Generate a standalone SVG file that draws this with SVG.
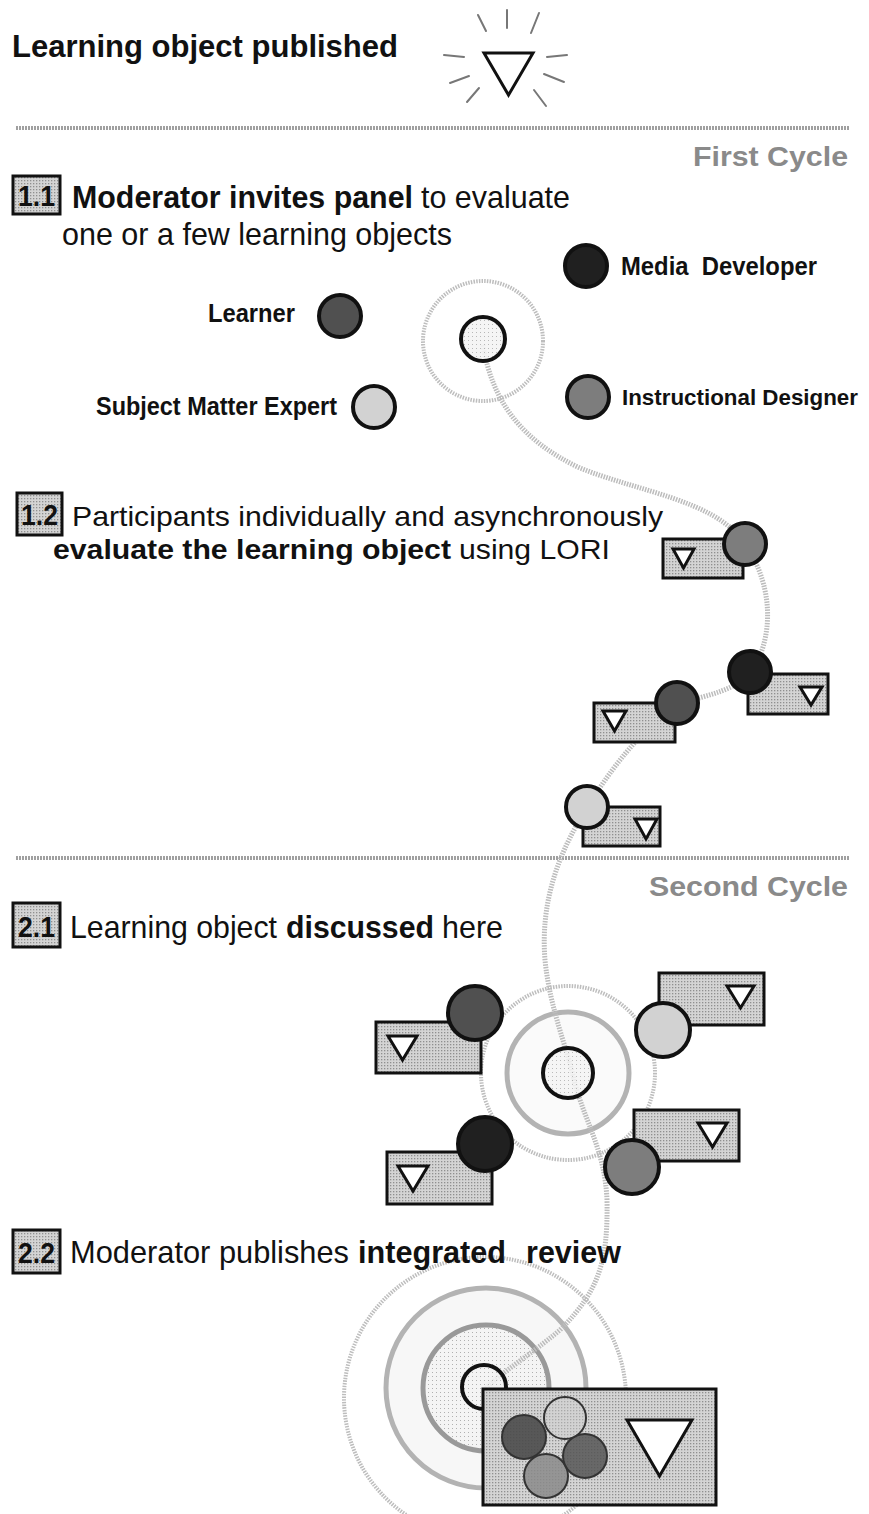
<svg xmlns="http://www.w3.org/2000/svg" width="869" height="1514" viewBox="0 0 869 1514">
  <defs>
    <pattern id="stipple" width="3" height="3" patternUnits="userSpaceOnUse">
      <rect width="3" height="3" fill="#d4d4d4"/>
      <rect width="1.3" height="1.3" fill="#8f8f8f"/>
    </pattern>
    <pattern id="lightdots" width="4" height="4" patternUnits="userSpaceOnUse">
      <rect width="4" height="4" fill="#f4f4f4"/>
      <rect width="1" height="1" fill="#b0b0b0"/>
    </pattern>
    <style>
      .t { font-family: "Liberation Sans", Arial, sans-serif; fill: #111; }
      .b { font-weight: bold; }
      .body { font-size: 32px; }
      .tight { font-size: 28px; }
      .lbl { font-size: 25px; font-weight: bold; }
      .lbl-sm { font-size: 22px; font-weight: bold; }
      .cyc { font-size: 28px; font-weight: bold; fill: #8a8a8a; }
      .num { font-size: 29px; font-weight: bold; }
      .numbox { fill: url(#stipple); stroke: #111; stroke-width: 3; }
      .sep { stroke: #a0a0a0; stroke-width: 4; stroke-dasharray: 2 1; }
      .card { fill: url(#stipple); stroke: #111; stroke-width: 3; }
      .tri { fill: #fff; stroke: #111; stroke-width: 3; stroke-linejoin: miter; }
      .who { stroke: #111; stroke-width: 4; }
      .ray { stroke: #777; stroke-width: 2; stroke-linecap: round; }
      .dotring { fill: none; stroke: #bdbdbd; stroke-width: 4; stroke-dasharray: 1.5 1.2; }
      .flow { fill: none; stroke: #bcbcbc; stroke-width: 5; stroke-dasharray: 1.5 1.2; }
    </style>
  </defs>
  <rect width="869" height="1514" fill="#fff"/>

  <!-- header -->
  <g id="published">
    <text class="t b" x="12" y="57" font-size="32" textLength="386" lengthAdjust="spacingAndGlyphs">Learning object published</text>
    <polygon class="tri" points="484,53 533,53 508.5,95" stroke-width="5"/>
    <line class="ray" x1="478" y1="15" x2="486" y2="31"/>
    <line class="ray" x1="507" y1="10" x2="507" y2="28"/>
    <line class="ray" x1="539" y1="13" x2="531" y2="33"/>
    <line class="ray" x1="444" y1="55" x2="464" y2="57"/>
    <line class="ray" x1="547" y1="57" x2="567" y2="55"/>
    <line class="ray" x1="450" y1="83" x2="469" y2="76"/>
    <line class="ray" x1="467" y1="102" x2="479" y2="88"/>
    <line class="ray" x1="544" y1="74" x2="564" y2="82"/>
    <line class="ray" x1="534" y1="90" x2="546" y2="106"/>
  </g>

  <!-- cycle separators -->
  <g id="separators">
    <line class="sep" x1="16" y1="128" x2="850" y2="128"/>
    <text class="t cyc" x="848" y="166" text-anchor="end" textLength="155" lengthAdjust="spacingAndGlyphs">First Cycle</text>
    <line class="sep" x1="16" y1="858" x2="850" y2="858"/>
    <text class="t cyc" x="848" y="896" text-anchor="end" textLength="199" lengthAdjust="spacingAndGlyphs">Second Cycle</text>
  </g>

  <!-- rings behind the flow -->
  <g id="ring-discussion">
    <circle class="dotring" cx="568" cy="1073" r="87"/>
    <circle cx="568" cy="1073" r="61" fill="#fafafa" stroke="#b3b3b3" stroke-width="5"/>
  </g>
  <g id="ring-review">
    <circle class="dotring" cx="485" cy="1398" r="141"/>
    <circle cx="486" cy="1388" r="100" fill="#f7f7f7" stroke="#b3b3b3" stroke-width="5"/>
    <circle cx="486" cy="1388" r="63" fill="url(#lightdots)" stroke="#999" stroke-width="5"/>
  </g>
  <g id="ring-invite">
    <circle class="dotring" cx="483" cy="341" r="60" stroke-width="7"/>
  </g>

  <!-- connector: path of the review process -->
  <g id="connectors">
    <path class="flow" d="M483,345 C492,400 520,440 580,468 C640,492 712,500 742,540 C772,580 776,632 752,672 C735,690 710,695 680,703 C640,730 610,770 587,808 C560,850 540,900 545,960 C550,1010 568,1050 574,1080 C584,1120 605,1150 607,1200 C608,1260 600,1290 560,1330 C530,1355 505,1370 486,1388"/>
  </g>

  <!-- step 1.1 -->
  <g id="step-1-1">
    <rect class="numbox" x="13" y="176" width="47" height="38"/>
    <text class="t num" x="36.5" y="206" text-anchor="middle" textLength="37" lengthAdjust="spacingAndGlyphs">1.1</text>
    <text class="t body b" x="72" y="208" textLength="341" lengthAdjust="spacingAndGlyphs">Moderator invites panel</text>
    <text class="t body" x="421" y="208" textLength="149" lengthAdjust="spacingAndGlyphs">to evaluate</text>
    <text class="t body" x="62" y="245" textLength="390" lengthAdjust="spacingAndGlyphs">one or a few learning objects</text>
  </g>

  <g id="moderator">
    <circle cx="483" cy="339" r="22" fill="url(#lightdots)" fill-opacity="0.9" stroke="#111" stroke-width="4"/>
  </g>
  <g id="media-developer">
    <circle class="who" cx="586" cy="266" r="21" fill="#202020"/>
    <text class="t lbl" x="621" y="275" textLength="196" lengthAdjust="spacingAndGlyphs" xml:space="preserve">Media  Developer</text>
  </g>
  <g id="learner">
    <circle class="who" cx="340" cy="316" r="21" fill="#505050"/>
    <text class="t lbl" x="208" y="322" textLength="87" lengthAdjust="spacingAndGlyphs">Learner</text>
  </g>
  <g id="instructional-designer">
    <circle class="who" cx="588" cy="397" r="21" fill="#7d7d7d"/>
    <text class="t lbl-sm" x="622" y="405" textLength="236" lengthAdjust="spacingAndGlyphs">Instructional Designer</text>
  </g>
  <g id="subject-matter-expert">
    <circle class="who" cx="374" cy="407" r="21" fill="#d2d2d2"/>
    <text class="t lbl" x="96" y="415" textLength="241" lengthAdjust="spacingAndGlyphs">Subject Matter Expert</text>
  </g>

  <!-- step 1.2 -->
  <g id="step-1-2">
    <rect class="numbox" x="17" y="493" width="45" height="42"/>
    <text class="t num" x="39.5" y="525" text-anchor="middle" textLength="37" lengthAdjust="spacingAndGlyphs">1.2</text>
    <text class="t tight" x="72" y="526" textLength="591" lengthAdjust="spacingAndGlyphs">Participants individually and asynchronously</text>
    <text class="t tight b" x="53" y="559" textLength="398" lengthAdjust="spacingAndGlyphs">evaluate the learning object</text>
    <text class="t tight" x="459" y="559" textLength="151" lengthAdjust="spacingAndGlyphs">using LORI</text>
  </g>

  <g id="review-designer">
    <rect class="card" x="663" y="539" width="80" height="39"/>
    <polygon class="tri" points="673,549 694,549 683.5,568"/>
    <circle class="who" cx="745" cy="544" r="21" fill="#7d7d7d"/>
  </g>
  <g id="review-developer">
    <rect class="card" x="748" y="674" width="80" height="40"/>
    <polygon class="tri" points="800,687 822,687 811,705"/>
    <circle class="who" cx="750" cy="672" r="21" fill="#202020"/>
  </g>
  <g id="review-learner">
    <rect class="card" x="594" y="703" width="81" height="39"/>
    <polygon class="tri" points="603,711 626,711 614.5,731"/>
    <circle class="who" cx="677" cy="703" r="21" fill="#505050"/>
  </g>
  <g id="review-expert">
    <rect class="card" x="583" y="807" width="77" height="39"/>
    <polygon class="tri" points="635,819 657,819 646,839"/>
    <circle class="who" cx="587" cy="807" r="21" fill="#d2d2d2"/>
  </g>

  <!-- step 2.1 -->
  <g id="step-2-1">
    <rect class="numbox" x="13" y="903" width="47" height="44"/>
    <text class="t num" x="36.5" y="937" text-anchor="middle" textLength="37" lengthAdjust="spacingAndGlyphs">2.1</text>
    <text class="t body" x="70" y="938" textLength="207" lengthAdjust="spacingAndGlyphs">Learning object</text>
    <text class="t body b" x="286" y="938" textLength="148" lengthAdjust="spacingAndGlyphs">discussed</text>
    <text class="t body" x="442" y="938" textLength="61" lengthAdjust="spacingAndGlyphs">here</text>
  </g>

  <g id="discussion-moderator">
    <circle cx="568" cy="1073" r="25" fill="url(#lightdots)" fill-opacity="0.85" stroke="#111" stroke-width="4"/>
  </g>
  <g id="discuss-learner">
    <rect class="card" x="376" y="1022" width="105" height="51"/>
    <polygon class="tri" points="388,1036 417,1036 402.5,1060"/>
    <circle class="who" cx="475" cy="1013" r="27" fill="#505050"/>
  </g>
  <g id="discuss-expert">
    <rect class="card" x="659" y="973" width="105" height="52"/>
    <polygon class="tri" points="727,986 754,986 740.5,1008"/>
    <circle class="who" cx="663" cy="1030" r="27" fill="#d2d2d2"/>
  </g>
  <g id="discuss-developer">
    <rect class="card" x="387" y="1152" width="105" height="52"/>
    <polygon class="tri" points="398,1166 428,1166 413,1191"/>
    <circle class="who" cx="485" cy="1144" r="27" fill="#202020"/>
  </g>
  <g id="discuss-designer">
    <rect class="card" x="634" y="1110" width="105" height="51"/>
    <polygon class="tri" points="698,1123 727,1123 712.5,1147"/>
    <circle class="who" cx="632" cy="1167" r="27" fill="#7d7d7d"/>
  </g>

  <!-- step 2.2 -->
  <g id="step-2-2">
    <rect class="numbox" x="13" y="1230" width="47" height="43"/>
    <text class="t num" x="36.5" y="1263" text-anchor="middle" textLength="37" lengthAdjust="spacingAndGlyphs">2.2</text>
    <text class="t body" x="70" y="1263" textLength="279" lengthAdjust="spacingAndGlyphs">Moderator publishes</text>
    <text class="t body b" x="358" y="1263" textLength="148" lengthAdjust="spacingAndGlyphs">integrated</text>
    <text class="t body b" x="526" y="1263" textLength="95" lengthAdjust="spacingAndGlyphs">review</text>
  </g>

  <g id="integrated-review">
    <circle cx="484" cy="1387" r="22" fill="url(#lightdots)" fill-opacity="0.85" stroke="#111" stroke-width="4"/>
    <rect class="card" x="483" y="1389" width="233" height="116"/>
    <circle cx="524" cy="1437" r="22" fill="#4a4a4a" fill-opacity="0.9" stroke="#333" stroke-width="2"/>
    <circle cx="546" cy="1476" r="22" fill="#8a8a8a" fill-opacity="0.85" stroke="#333" stroke-width="2"/>
    <circle cx="585" cy="1456" r="22" fill="#555" fill-opacity="0.85" stroke="#333" stroke-width="2"/>
    <circle cx="565" cy="1418" r="21" fill="#cfcfcf" fill-opacity="0.4" stroke="#333" stroke-width="2"/>
    <polygon class="tri" points="627,1420 692,1420 659.5,1476" stroke-width="6"/>
  </g>
</svg>
